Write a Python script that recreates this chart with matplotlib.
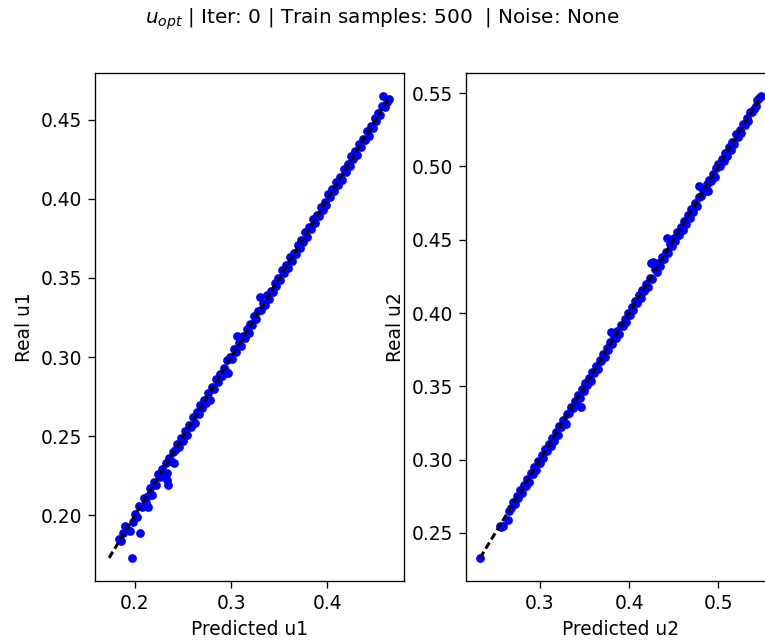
import matplotlib
matplotlib.use("Agg")
import matplotlib.pyplot as plt

# predicted vs real values (u1 panel)
u1_pred = [0.183, 0.185, 0.188, 0.190, 0.192, 0.195, 0.197, 0.198, 0.200, 0.202,
           0.205, 0.204, 0.207, 0.209, 0.211, 0.213, 0.214, 0.216, 0.218, 0.220,
           0.222, 0.224, 0.226, 0.228, 0.230, 0.232, 0.233, 0.233, 0.234, 0.235,
           0.237, 0.239, 0.240, 0.242, 0.244, 0.246, 0.248, 0.250, 0.252, 0.254,
           0.256, 0.258, 0.260, 0.262, 0.264, 0.266, 0.268, 0.270, 0.272, 0.274,
           0.276, 0.278, 0.280, 0.282, 0.284, 0.286, 0.288, 0.290, 0.292, 0.294,
           0.296, 0.297, 0.299, 0.301, 0.303, 0.305, 0.306, 0.308, 0.310, 0.312,
           0.314, 0.316, 0.318, 0.320, 0.322, 0.324, 0.326, 0.328, 0.330, 0.331,
           0.333, 0.335, 0.337, 0.339, 0.341, 0.343, 0.345, 0.347, 0.349, 0.351,
           0.353, 0.355, 0.357, 0.359, 0.361, 0.363, 0.365, 0.367, 0.369, 0.371,
           0.373, 0.375, 0.377, 0.379, 0.381, 0.383, 0.385, 0.387, 0.389, 0.391,
           0.393, 0.395, 0.397, 0.399, 0.401, 0.403, 0.405, 0.407, 0.409, 0.411,
           0.413, 0.415, 0.417, 0.419, 0.421, 0.423, 0.425, 0.427, 0.429, 0.431,
           0.433, 0.435, 0.437, 0.439, 0.441, 0.443, 0.445, 0.447, 0.449, 0.451,
           0.453, 0.455, 0.457, 0.458, 0.460, 0.462, 0.464]
u1_real = [0.185, 0.184, 0.189, 0.193, 0.191, 0.190, 0.173, 0.196, 0.201, 0.199,
           0.189, 0.206, 0.205, 0.211, 0.208, 0.205, 0.212, 0.217, 0.213, 0.221,
           0.219, 0.226, 0.224, 0.229, 0.227, 0.233, 0.227, 0.222, 0.219, 0.236,
           0.234, 0.240, 0.233, 0.241, 0.245, 0.243, 0.249, 0.247, 0.253, 0.251,
           0.257, 0.256, 0.262, 0.258, 0.265, 0.264, 0.270, 0.268, 0.273, 0.271,
           0.277, 0.273, 0.281, 0.280, 0.286, 0.284, 0.289, 0.288, 0.293, 0.292,
           0.298, 0.290, 0.300, 0.299, 0.305, 0.303, 0.313, 0.309, 0.307, 0.313,
           0.312, 0.318, 0.315, 0.321, 0.320, 0.326, 0.324, 0.329, 0.338, 0.330,
           0.334, 0.333, 0.339, 0.337, 0.342, 0.341, 0.347, 0.345, 0.350, 0.349,
           0.355, 0.353, 0.358, 0.356, 0.363, 0.361, 0.366, 0.365, 0.371, 0.369,
           0.374, 0.373, 0.379, 0.376, 0.382, 0.381, 0.387, 0.385, 0.390, 0.389,
           0.395, 0.393, 0.398, 0.396, 0.403, 0.401, 0.406, 0.405, 0.411, 0.409,
           0.414, 0.412, 0.419, 0.417, 0.422, 0.421, 0.427, 0.425, 0.430, 0.428,
           0.435, 0.433, 0.438, 0.437, 0.443, 0.440, 0.446, 0.445, 0.451, 0.449,
           0.454, 0.453, 0.459, 0.465, 0.458, 0.461, 0.463]

# u2 panel
u2_pred = [0.233, 0.255, 0.257, 0.259, 0.264, 0.265, 0.268, 0.270, 0.272, 0.274,
           0.276, 0.278, 0.280, 0.282, 0.284, 0.286, 0.288, 0.290, 0.292, 0.294,
           0.296, 0.298, 0.300, 0.302, 0.304, 0.306, 0.308, 0.310, 0.312, 0.314,
           0.316, 0.318, 0.320, 0.322, 0.324, 0.326, 0.328, 0.329, 0.331, 0.333,
           0.335, 0.337, 0.339, 0.341, 0.343, 0.345, 0.346, 0.347, 0.349, 0.351,
           0.353, 0.355, 0.357, 0.359, 0.361, 0.363, 0.365, 0.367, 0.369, 0.371,
           0.373, 0.375, 0.377, 0.379, 0.380, 0.381, 0.383, 0.385, 0.387, 0.389,
           0.391, 0.393, 0.395, 0.397, 0.399, 0.401, 0.403, 0.405, 0.407, 0.409,
           0.411, 0.413, 0.415, 0.417, 0.419, 0.421, 0.423, 0.425, 0.427, 0.426,
           0.429, 0.431, 0.433, 0.435, 0.437, 0.439, 0.441, 0.443, 0.444, 0.446,
           0.448, 0.450, 0.452, 0.454, 0.456, 0.458, 0.460, 0.462, 0.464, 0.466,
           0.468, 0.470, 0.472, 0.474, 0.476, 0.478, 0.479, 0.481, 0.483, 0.485,
           0.487, 0.489, 0.490, 0.492, 0.494, 0.496, 0.498, 0.500, 0.502, 0.504,
           0.506, 0.508, 0.510, 0.512, 0.514, 0.516, 0.518, 0.520, 0.522, 0.524,
           0.526, 0.528, 0.530, 0.532, 0.534, 0.536, 0.538, 0.540, 0.542, 0.544,
           0.546, 0.548]
u2_real = [0.233, 0.255, 0.254, 0.255, 0.259, 0.265, 0.267, 0.271, 0.270, 0.275,
           0.274, 0.279, 0.277, 0.283, 0.282, 0.287, 0.285, 0.291, 0.290, 0.295,
           0.293, 0.299, 0.298, 0.303, 0.301, 0.307, 0.306, 0.311, 0.309, 0.315,
           0.313, 0.319, 0.317, 0.323, 0.322, 0.327, 0.325, 0.324, 0.331, 0.332,
           0.336, 0.335, 0.340, 0.339, 0.344, 0.342, 0.336, 0.348, 0.347, 0.352,
           0.351, 0.356, 0.354, 0.360, 0.359, 0.364, 0.362, 0.368, 0.367, 0.372,
           0.370, 0.376, 0.375, 0.380, 0.387, 0.379, 0.384, 0.383, 0.388, 0.386,
           0.392, 0.391, 0.396, 0.394, 0.400, 0.399, 0.404, 0.402, 0.408, 0.407,
           0.412, 0.410, 0.416, 0.415, 0.420, 0.418, 0.424, 0.434, 0.435, 0.423,
           0.430, 0.428, 0.434, 0.432, 0.438, 0.437, 0.442, 0.451, 0.441, 0.447,
           0.446, 0.451, 0.449, 0.455, 0.453, 0.459, 0.457, 0.463, 0.461, 0.467,
           0.465, 0.471, 0.469, 0.475, 0.473, 0.479, 0.487, 0.480, 0.484, 0.483,
           0.488, 0.483, 0.491, 0.490, 0.495, 0.493, 0.499, 0.502, 0.500, 0.505,
           0.504, 0.509, 0.507, 0.513, 0.511, 0.517, 0.515, 0.522, 0.520, 0.525,
           0.523, 0.529, 0.528, 0.533, 0.531, 0.537, 0.537, 0.539, 0.541, 0.545,
           0.547, 0.548]

title = r'$u_{opt}$ | Iter: 0 | Train samples: 500  | Noise: None'

plt.rcParams['font.size'] = 11.2
plt.rcParams['xtick.major.size'] = 4.2
plt.rcParams['ytick.major.size'] = 4.2

fig = plt.figure(figsize=(765 / 120, 641 / 120), dpi=120)
ax1 = fig.add_axes([0.1242, 0.0936, 0.4039, 0.7925])
ax2 = fig.add_axes([0.6092, 0.0936, 0.4039, 0.7925])

for ax, pred, real, name in [(ax1, u1_pred, u1_real, 'u1'), (ax2, u2_pred, u2_real, 'u2')]:
    ax.scatter(pred, real, c='b', s=18)
    lo = min(min(pred), min(real))
    hi = max(max(pred), max(real))
    ax.plot([lo, hi], [lo, hi], 'k--', lw=1.8, dashes=(2.4, 1.2))
    ax.set_xlabel('Predicted ' + name)
    ax.set_ylabel('Real ' + name)

fig.suptitle(title, fontsize=12, y=0.99)
fig.savefig('out.png', dpi=120)
